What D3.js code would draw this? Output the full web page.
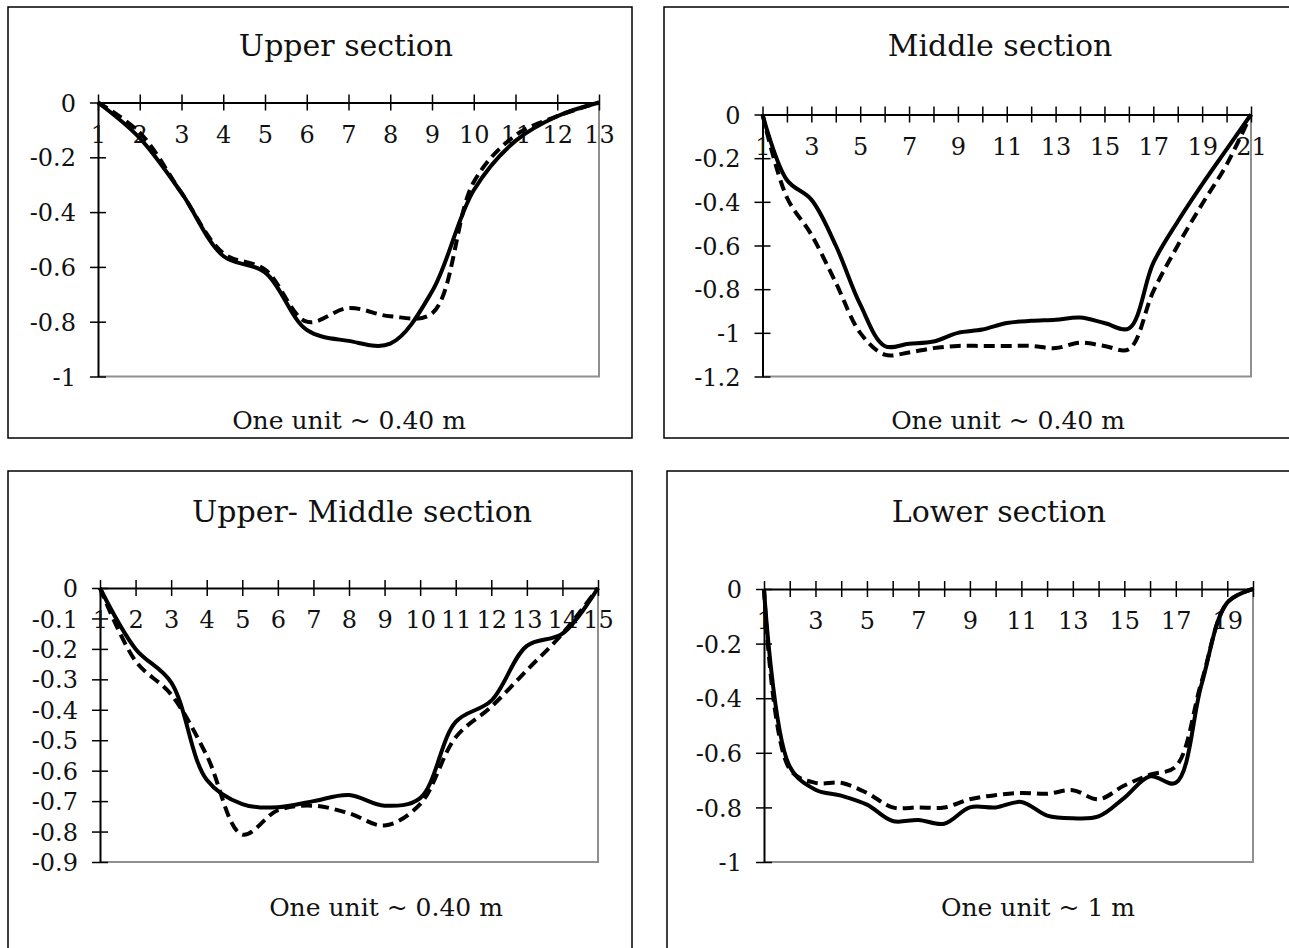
<!DOCTYPE html>
<html>
<head>
<meta charset="utf-8">
<script src="https://cdn.jsdelivr.net/npm/d3@7"></script>
<style>
  body { margin: 0; background: #fff; }
  text { font-family: "DejaVu Serif", serif; fill: #111; }
</style>
</head>
<body>
<script>
const w = 1289;
const h = 948;

// cross-section profiles (depth in m), solid = first survey, dashed = second survey
const upperX = d3.range(1, 14);
const upperSolid = [0, -0.13, -0.33, -0.56, -0.62, -0.83, -0.87, -0.88, -0.69, -0.32, -0.14, -0.05, 0];
const upperDashed = [0, -0.11, -0.33, -0.55, -0.61, -0.80, -0.75, -0.78, -0.77, -0.29, -0.12, -0.05, 0];
const upperYTicks = [0, -0.2, -0.4, -0.6, -0.8, -1];
const upperXLabels = d3.range(1, 14);

const middleX = d3.range(1, 22);
const middleSolid = [0, -0.30, -0.39, -0.60, -0.87, -1.06, -1.05, -1.04, -1.00, -0.985, -0.955, -0.945, -0.94, -0.93, -0.955, -0.98, -0.68, -0.49, -0.32, -0.16, 0];
const middleDashed = [0, -0.38, -0.55, -0.77, -1.00, -1.10, -1.09, -1.07, -1.06, -1.06, -1.06, -1.06, -1.07, -1.045, -1.06, -1.075, -0.81, -0.60, -0.41, -0.23, 0];
const middleYTicks = [0, -0.2, -0.4, -0.6, -0.8, -1, -1.2];
const middleXLabels = [1, 3, 5, 7, 9, 11, 13, 15, 17, 19, 21];

const upMidX = d3.range(1, 16);
const upMidSolid = [0, -0.20, -0.31, -0.63, -0.71, -0.72, -0.70, -0.68, -0.715, -0.69, -0.44, -0.37, -0.19, -0.15, 0];
const upMidDashed = [0, -0.24, -0.35, -0.55, -0.81, -0.73, -0.715, -0.74, -0.78, -0.71, -0.49, -0.39, -0.27, -0.15, 0];
const upMidYTicks = [0, -0.1, -0.2, -0.3, -0.4, -0.5, -0.6, -0.7, -0.8, -0.9];
const upMidXLabels = d3.range(1, 16);

const lowerX = d3.range(1, 21);
const lowerSolid = [0, -0.65, -0.735, -0.757, -0.79, -0.85, -0.846, -0.86, -0.80, -0.80, -0.78, -0.83, -0.84, -0.833, -0.765, -0.686, -0.71, -0.35, -0.05, 0];
const lowerDashed = [0, -0.66, -0.71, -0.71, -0.747, -0.80, -0.80, -0.80, -0.77, -0.755, -0.747, -0.75, -0.737, -0.77, -0.72, -0.68, -0.65, -0.34, -0.05, 0];
const lowerYTicks = [0, -0.2, -0.4, -0.6, -0.8, -1];
const lowerXLabels = [1, 3, 5, 7, 9, 11, 13, 15, 17, 19];

const panels = [
  {
    title: "Upper section", note: "One unit ~ 0.40 m",
    xs: upperX, solid: upperSolid, dashed: upperDashed,
    yTicks: upperYTicks, xLabels: upperXLabels, yMin: -1,
    frame: [8, 7, 624, 431], plot: [98, 599, 102.5, 376.5],
    titlePos: [346, 56], notePos: [349, 429]
  },
  {
    title: "Middle section", note: "One unit ~ 0.40 m",
    xs: middleX, solid: middleSolid, dashed: middleDashed,
    yTicks: middleYTicks, xLabels: middleXLabels, yMin: -1.2,
    frame: [664, 7, 700, 431], plot: [762.5, 1251, 114.5, 376.5],
    titlePos: [1000, 56], notePos: [1008, 429]
  },
  {
    title: "Upper- Middle section", note: "One unit ~ 0.40 m",
    xs: upMidX, solid: upMidSolid, dashed: upMidDashed,
    yTicks: upMidYTicks, xLabels: upMidXLabels, yMin: -0.9,
    frame: [8, 471, 624, 500], plot: [100, 598, 588, 862],
    titlePos: [362, 522], notePos: [386, 916]
  },
  {
    title: "Lower section", note: "One unit ~ 1 m",
    xs: lowerX, solid: lowerSolid, dashed: lowerDashed,
    yTicks: lowerYTicks, xLabels: lowerXLabels, yMin: -1,
    frame: [667, 471, 700, 500], plot: [764, 1253, 589, 862],
    titlePos: [999, 522], notePos: [1038, 916]
  }
];

const svg = d3
  .select("body")
  .append("svg")
  .attr("width", w)
  .attr("height", h);

panels.forEach(function(p) {
  const g = svg.append("g");

  // outer frame
  g.append("rect")
    .attr("x", p.frame[0])
    .attr("y", p.frame[1])
    .attr("width", p.frame[2])
    .attr("height", p.frame[3])
    .attr("fill", "none")
    .attr("stroke", "#000")
    .attr("stroke-width", 1.5);

  const x = d3
    .scaleLinear()
    .domain([1, p.xs.length])
    .range([p.plot[0], p.plot[1]]);

  const y = d3
    .scaleLinear()
    .domain([p.yMin, 0])
    .range([p.plot[3], p.plot[2]]);

  // grey right and bottom edge of the plot area
  g.append("path")
    .attr("d", "M" + x(1) + "," + y(p.yMin) + "H" + x(p.xs.length) + "V" + y(0))
    .attr("fill", "none")
    .attr("stroke", "#8f8f8f")
    .attr("stroke-width", 2);

  // y axis
  const yAxis = g
    .append("g")
    .attr("transform", "translate(" + x(1) + ",0)")
    .call(
      d3.axisLeft(y)
        .tickValues(p.yTicks)
        .tickSizeOuter(0)
        .tickFormat(d => (d === 0 ? "0" : String(d)))
    );
  yAxis.select(".domain").attr("stroke", "#000").attr("stroke-width", 2);
  yAxis.selectAll(".tick line").attr("x1", -8).attr("x2", 8).attr("stroke-width", 1.5);
  yAxis.selectAll(".tick text")
    .attr("x", -22)
    .attr("dy", "0.36em")
    .style("font-family", "DejaVu Serif")
    .style("font-size", "24px")
    .attr("fill", "#111");

  // x axis sits on the zero line
  const xAxis = g
    .append("g")
    .attr("transform", "translate(0," + y(0) + ")")
    .call(
      d3.axisBottom(x)
        .tickValues(p.xs)
        .tickSizeOuter(0)
        .tickFormat(d => (p.xLabels.indexOf(d) >= 0 ? d : ""))
    );
  xAxis.select(".domain").attr("stroke", "#000").attr("stroke-width", 2);
  xAxis.selectAll(".tick line").attr("y1", -8).attr("y2", 8).attr("stroke-width", 1.5);
  xAxis.selectAll(".tick text")
    .attr("y", 40)
    .attr("dy", null)
    .style("font-family", "DejaVu Serif")
    .style("font-size", "24px")
    .attr("fill", "#111");

  const line = d3
    .line()
    .x((d, i) => x(p.xs[i]))
    .y(d => y(d))
    .curve(d3.curveCatmullRom.alpha(0.5));

  g.append("path")
    .datum(p.dashed)
    .attr("d", line)
    .attr("fill", "none")
    .attr("stroke", "#000")
    .attr("stroke-width", 4)
    .attr("stroke-dasharray", "11,6");

  g.append("path")
    .datum(p.solid)
    .attr("d", line)
    .attr("fill", "none")
    .attr("stroke", "#000")
    .attr("stroke-width", 4);

  g.append("text")
    .attr("x", p.titlePos[0])
    .attr("y", p.titlePos[1])
    .attr("text-anchor", "middle")
    .style("font-size", "30px")
    .text(p.title);

  g.append("text")
    .attr("x", p.notePos[0])
    .attr("y", p.notePos[1])
    .attr("text-anchor", "middle")
    .style("font-size", "25px")
    .text(p.note);
});
</script>
</body>
</html>
